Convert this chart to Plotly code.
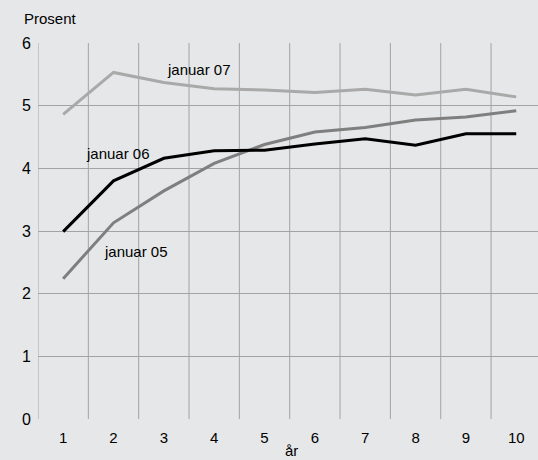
import plotly.graph_objects as go

years = [1, 2, 3, 4, 5, 6, 7, 8, 9, 10]
jan05 = [2.24, 3.13, 3.64, 4.08, 4.38, 4.58, 4.65, 4.77, 4.82, 4.92]
jan06 = [2.99, 3.80, 4.16, 4.28, 4.29, 4.39, 4.47, 4.37, 4.55, 4.55]
jan07 = [4.86, 5.53, 5.37, 5.27, 5.25, 5.21, 5.26, 5.17, 5.26, 5.14]
series_names = ["januar 05", "januar 06", "januar 07"]
y_ticks = [0, 1, 2, 3, 4, 5, 6]

W, H = 538, 460
L, R, T, B = 38.4, 0, 42.7, 40.5
bg = "#e6e7e8"
font = "Liberation Sans, Arial, sans-serif"
plot_w = W - L - R
plot_h = H - T - B


def px_x(px):
    return (px - L) / plot_w


def px_y(py):
    return (H - B - py) / plot_h


fig = go.Figure()
fig.add_trace(go.Scatter(x=years, y=jan07, mode="lines", name=series_names[2],
                         line=dict(color="#a9a9a9", width=3)))
fig.add_trace(go.Scatter(x=years, y=jan05, mode="lines", name=series_names[0],
                         line=dict(color="#7f7f7f", width=3)))
fig.add_trace(go.Scatter(x=years, y=jan06, mode="lines", name=series_names[1],
                         line=dict(color="#000000", width=3)))

# gridlines between categories (vertical)
for k in range(0, 11):
    fig.add_shape(type="line", xref="x", yref="y", x0=k + 0.5, x1=k + 0.5, y0=0, y1=6,
                  line=dict(color="#a3a3a3", width=1), layer="below")

units = plot_w / 50.3

fig.update_layout(
    width=W, height=H,
    margin=dict(l=L, r=R, t=T, b=B, autoexpand=False),
    paper_bgcolor=bg, plot_bgcolor=bg,
    showlegend=False,
    font=dict(family=font, size=15, color="#000000"),
    xaxis=dict(range=[0.5, 0.5 + units], tickmode="array", tickvals=years,
               ticktext=[str(v) for v in years], showgrid=False, zeroline=False,
               showline=False, ticks="outside", ticklen=5, tickcolor="rgba(0,0,0,0)",
               tickfont=dict(size=15)),
    yaxis=dict(range=[0, 6], tickmode="array", tickvals=y_ticks, showgrid=True,
               gridcolor="#a3a3a3", gridwidth=1, zeroline=False, showline=False,
               ticks="outside", ticklen=3, tickcolor="rgba(0,0,0,0)",
               tickfont=dict(size=16)),
    annotations=[
        dict(text="januar 07", x=3.69, y=5.57, xref="x", yref="y", showarrow=False,
             font=dict(size=15)),
        dict(text="januar 06", x=2.08, y=4.23, xref="x", yref="y", showarrow=False,
             font=dict(size=15)),
        dict(text="januar 05", x=2.44, y=2.67, xref="x", yref="y", showarrow=False,
             font=dict(size=15)),
        dict(text="Prosent", x=px_x(22.7), y=px_y(18.3), xref="paper", yref="paper",
             xanchor="left", yanchor="middle", showarrow=False, font=dict(size=15)),
        dict(text="år", x=px_x(291.7), y=px_y(451), xref="paper", yref="paper",
             xanchor="center", yanchor="middle", showarrow=False, font=dict(size=15)),
    ],
)

fig.write_html(
    "out.html",
    config={"displayModeBar": False},
    post_script="document.body.style.margin='0';document.body.style.overflow='hidden';"
                "document.body.style.background='#e6e7e8';",
)
